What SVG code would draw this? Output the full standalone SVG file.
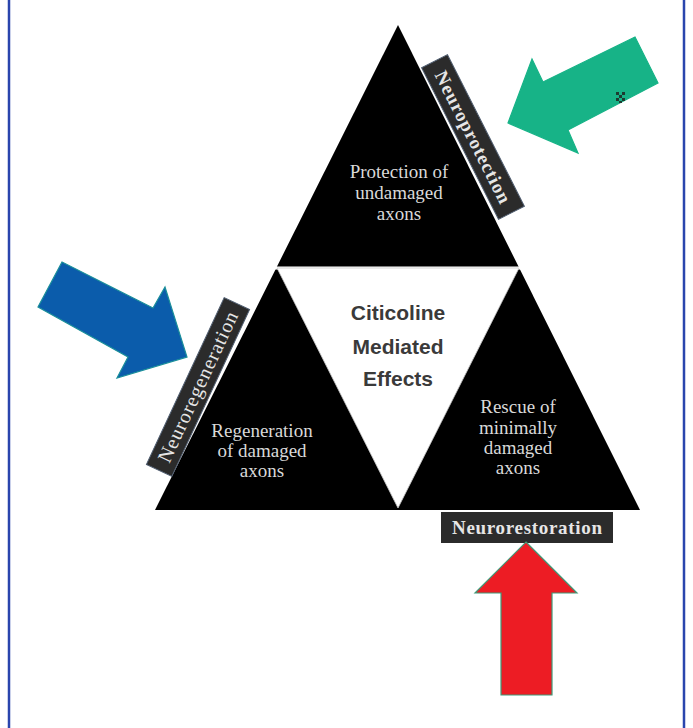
<svg xmlns="http://www.w3.org/2000/svg" width="693" height="728" viewBox="0 0 693 728">
  <style>
    .tri { fill: #000000; }
    .body { font-family: "Liberation Serif", "Times New Roman", serif; font-size: 19px; fill: #d9d9d9; text-anchor: middle; }
    .center { font-family: "Liberation Sans", Arial, sans-serif; font-size: 21px; font-weight: bold; fill: #3a3a3a; text-anchor: middle; }
    .labelbox { fill: #2b2b2b; stroke: #4f5d70; stroke-width: 1; }
    .labeltxt { font-family: "Liberation Serif", "Times New Roman", serif; font-size: 19px; font-weight: bold; fill: #e6e6e6; text-anchor: middle; }
    .arrow { stroke-width: 1.2; stroke-linejoin: miter; }
  </style>
  <rect x="0" y="0" width="693" height="728" fill="#ffffff"/>
  <g id="frame">
    <line x1="9" y1="0" x2="9" y2="728" stroke="#2a45ad" stroke-width="2.5"/>
    <line x1="684" y1="0" x2="684" y2="728" stroke="#2a45ad" stroke-width="2.5"/>
  </g>

  <g id="triangle">
    <polygon class="tri" points="398,25 155,510 640,510"/>
    <line x1="268" y1="268" x2="528" y2="268" stroke="#ffffff" stroke-width="3"/>
    <polygon points="277,268 519,268 398,508" fill="#ffffff" stroke="#c8c8c8" stroke-width="0.8"/>
  </g>

  <g id="node-top">
    <text class="body" x="399" y="178">Protection of</text>
    <text class="body" x="399" y="199">undamaged</text>
    <text class="body" x="399" y="220">axons</text>
  </g>

  <g id="node-center">
    <text class="center" x="398" y="320">Citicoline</text>
    <text class="center" x="398" y="354">Mediated</text>
    <text class="center" x="398" y="386">Effects</text>
  </g>

  <g id="node-left">
    <text class="body" x="262" y="437">Regeneration</text>
    <text class="body" x="262" y="457">of damaged</text>
    <text class="body" x="262" y="477">axons</text>
  </g>

  <g id="node-right">
    <text class="body" x="518" y="413">Rescue of</text>
    <text class="body" x="518" y="434">minimally</text>
    <text class="body" x="518" y="454">damaged</text>
    <text class="body" x="518" y="474">axons</text>
  </g>

  <g id="label-neuroprotection" transform="translate(473,137) rotate(63.1)">
    <rect class="labelbox" x="-85" y="-14.5" width="170" height="29"/>
    <text class="labeltxt" x="0" y="6.5" textLength="146" lengthAdjust="spacing">Neuroprotection</text>
  </g>

  <g id="label-neuroregeneration" transform="translate(198,387) rotate(-65)">
    <rect class="labelbox" x="-92" y="-14" width="184" height="28"/>
    <text class="labeltxt" x="0" y="6.5" style="font-weight:normal;font-size:20px" textLength="164" lengthAdjust="spacing">Neuroregeneration</text>
  </g>

  <g id="label-neurorestoration">
    <rect x="441" y="512" width="172" height="31" fill="#2b2b2b"/>
    <text class="labeltxt" x="527" y="534" textLength="150" lengthAdjust="spacing">Neurorestoration</text>
  </g>

  <g id="connectors">
    <polygon id="arrow-green" class="arrow" fill="#17b387" stroke="#17b387" points="635,37 658,83 568,130 578,153 508,123 532,59 543,82"/>
    <polygon id="arrow-blue" class="arrow" fill="#0b5cab" stroke="#1a8f9a" points="62,262 38,307 128,357 117,378 187,357 165,287 153,308"/>
    <polygon id="arrow-red" class="arrow" fill="#ed1c24" stroke="#3f9a78" points="526,542 577,593 552,593 552,695 501,695 501,593 475,593"/>
  </g>

  <g id="cursor-mark" fill="#1d3b30">
    <rect x="616" y="92" width="3" height="3"/>
    <rect x="622" y="92" width="3" height="3"/>
    <rect x="619" y="95" width="3" height="3"/>
    <rect x="616" y="98" width="3" height="3"/>
    <rect x="622" y="98" width="3" height="3"/>
    <rect x="619" y="101" width="3" height="2"/>
  </g>
</svg>
